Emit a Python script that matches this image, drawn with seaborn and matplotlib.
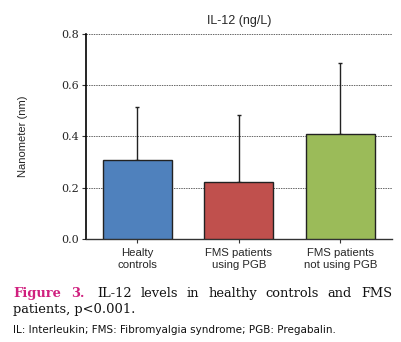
import matplotlib
matplotlib.use("Agg")
import matplotlib.pyplot as plt
import seaborn as sns
import pandas as pd

categories = ["Healty\ncontrols", "FMS patients\nusing PGB", "FMS patients\nnot using PGB"]
means = [0.307, 0.221, 0.408]
upper = [0.513, 0.482, 0.685]
colors = ["#4f81bd", "#c0504d", "#9bbb59"]
yticks = [0.0, 0.2, 0.4, 0.6, 0.8]

sns.set_theme(style="white")
plt.rcParams["font.family"] = ["Liberation Sans", "DejaVu Sans"]

df = pd.DataFrame({"group": categories, "value": means})

fig = plt.figure(figsize=(4.02, 3.42), dpi=100)
ax = fig.add_axes([85.7 / 402, 1 - 238.7 / 342, (392 - 85.7) / 402, (238.7 - 34) / 342])

sns.barplot(data=df, x="group", y="value", hue="group", palette=colors, legend=False,
            errorbar=None, width=0.68, saturation=1, edgecolor="#222222", linewidth=1.0,
            ax=ax, zorder=3)

xs = [p.get_x() + p.get_width() / 2 for p in ax.patches]
hs = [p.get_height() for p in ax.patches]
err = [u - m for u, m in zip(upper, means)]
ax.errorbar(xs, hs, yerr=[[0] * len(err), err], fmt="none", ecolor="#222222",
            elinewidth=1.0, capsize=1.5, capthick=1.0, zorder=2)

ax.set_ylim(0, 0.8)
ax.set_xlim(-0.51, 2.51)
ax.set_yticks(yticks)
ax.set_yticklabels([f"{t:.1f}" for t in yticks], fontfamily="DejaVu Serif", fontsize=8)
for t in yticks[1:]:
    ax.axhline(t, color="#666666", linestyle=(0, (1.5, 1)), linewidth=0.7, zorder=1)

ax.set_xlabel("")
ax.set_ylabel("Nanometer (nm)", fontsize=8, labelpad=24)
ax.tick_params(axis="x", labelsize=8.2, length=3, width=0.8, color="#333333", pad=4,
               direction="out", bottom=True)
ax.tick_params(axis="y", length=3, width=0.8, color="#333333", pad=2, direction="out", left=True)
for s in ["top", "right"]:
    ax.spines[s].set_visible(False)
ax.spines["left"].set_color("black")
ax.spines["left"].set_linewidth(1.2)
ax.spines["bottom"].set_color("#333333")
ax.spines["bottom"].set_linewidth(1.0)
ax.set_title("IL-12 (ng/L)", fontsize=9, pad=7)

# caption
def px(x, y):
    return x / 402, 1 - y / 342

serif = "DejaVu Serif"
fs = 9.4
fig.text(*px(13, 297), "Figure", fontsize=9.4, fontweight="bold", color="#d0207f", family=serif, va="baseline")
fig.text(*px(71, 297), "3.", fontsize=9.4, fontweight="bold", color="#d0207f", family=serif, va="baseline")

# justified first line
line_words = ["IL-12", "levels", "in", "healthy", "controls", "and", "FMS"]
x_start, x_end = 97, 392
renderer = fig.canvas.get_renderer()
texts = [fig.text(*px(x_start, 297), w, fontsize=fs, family=serif, va="baseline", color="#111111")
         for w in line_words]
widths = [t.get_window_extent(renderer).width for t in texts]
gap = (x_end - x_start - sum(widths)) / (len(widths) - 1)
x = x_start
for t, w in zip(texts, widths):
    t.set_x(x / 402)
    x += w + gap

fig.text(*px(13, 313), "patients, p<0.001.", fontsize=fs, family=serif, va="baseline", color="#111111")
fig.text(*px(13, 333), "IL: Interleukin; FMS: Fibromyalgia syndrome; PGB: Pregabalin.",
         fontsize=7.5, family="DejaVu Sans", va="baseline", color="#111111")

fig.savefig("out.png", dpi=100)
